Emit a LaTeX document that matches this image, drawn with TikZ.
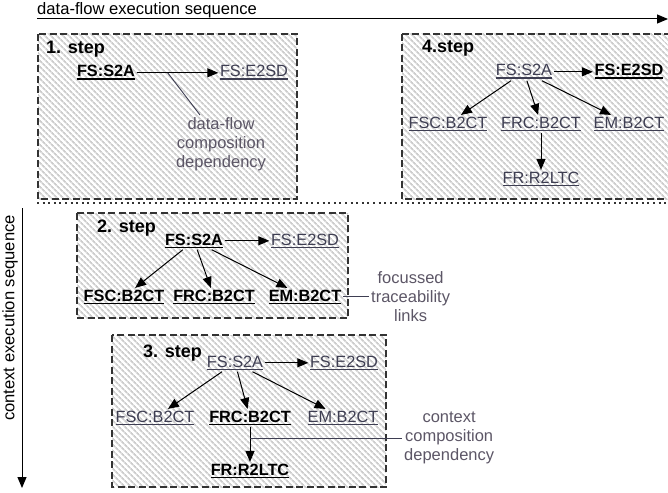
\documentclass[tikz,border=0pt]{standalone}
\usepackage{fontspec}
\setmainfont{Liberation Sans}
\usetikzlibrary{arrows.meta,patterns.meta}

\definecolor{namegray}{HTML}{3E3E52}
\definecolor{notegray}{HTML}{5C5666}
\definecolor{hatchgray}{HTML}{CDCDCD}
\definecolor{framegray}{HTML}{333333}

% underlined service name
\newcommand\svcname[1]{\setbox0\hbox{#1}\rlap{\rule[-3pt]{\wd0}{1.5pt}}\box0}

\tikzset{
  x=1pt, y=-1pt,
  stepframe/.style={draw=framegray, line width=1.1pt, dash pattern=on 7pt off 3.5pt,
    preaction={pattern={Lines[angle=-45,distance=4pt,line width=1.9pt]}, pattern color=hatchgray}},
  svc/.style={font=\fontsize{16.3}{19}\selectfont, text=namegray, inner sep=1.5pt, anchor=base},
  svcbold/.style={svc, text=black, font=\fontsize{16.3}{19}\selectfont\bfseries},
  steptitle/.style={font=\fontsize{18}{21}\selectfont\bfseries, inner sep=0pt, anchor=base west},
  note/.style={font=\fontsize{16.5}{19}\selectfont, text=notegray, align=center, inner sep=0pt},
  axislabel/.style={font=\fontsize{16.6}{19}\selectfont, inner sep=0pt},
  conn/.style={-{Triangle[length=11pt,width=9pt]}, line width=1pt},
  noteline/.style={draw=namegray, line width=0.9pt},
}

\begin{document}
\begin{tikzpicture}
\useasboundingbox (0,0) rectangle (668,492);

% execution axes
\coordinate (dfstart) at (37,19);
\coordinate (dfend) at (668,19);
\draw[conn] (dfstart) -- (dfend);
\node[axislabel, anchor=base west] (dflabel) at (37,14.5) {data-flow execution sequence};

\coordinate (cxstart) at (22,208);
\coordinate (cxend) at (22,488);
\draw[conn] (cxstart) -- (cxend);
\node[axislabel, rotate=90] (cxlabel) at (10,318) {context execution sequence};

\coordinate (sepstart) at (37,203);
\coordinate (sepend) at (668,203);
\draw[framegray, line width=1.6pt, dash pattern=on 2pt off 3.6pt] (sepstart) -- (sepend);

% step frames
\path[stepframe] (38,34) rectangle (297,199);
\path[stepframe] (402,34) rectangle (676,199);
\path[stepframe] (77,213) rectangle (348,318);
\path[stepframe] (112,335) rectangle (386,487);

% 1. step
\node[steptitle] (t1) at (46,54) {1. step};
\node[svcbold] (a1) at (106,77) {\svcname{FS:S2A}};
\node[svc] (b1) at (254,77) {\svcname{FS:E2SD}};
\draw[conn] (a1) -- coordinate[pos=0.38] (k1) (b1);
\node[note, anchor=north] (n1) at (221,117.5) {data-flow\\composition\\dependency};
\coordinate (n1end) at (200,115);
\draw[noteline] (k1) -- (n1end);

% 4.step
\node[steptitle] (t4) at (422,53) {4.step};
\node[svc] (a4) at (524,76) {\svcname{FS:S2A}};
\node[svcbold] (b4) at (629,76) {\svcname{FS:E2SD}};
\node[svc] (c4) at (448,128) {\svcname{FSC:B2CT}};
\node[svc] (d4) at (541,128) {\svcname{FRC:B2CT}};
\node[svc] (e4) at (629,128) {\svcname{EM:B2CT}};
\node[svc] (f4) at (541,183) {\svcname{FR:R2LTC}};
\draw[conn] (a4) -- (b4);
\draw[conn] (a4) -- (c4);
\draw[conn] (a4) -- (d4);
\draw[conn] (a4) -- (e4);
\draw[conn] (d4) -- (f4);

% 2. step
\node[steptitle] (t2) at (97,232) {2. step};
\node[svcbold] (a2) at (194,245) {\svcname{FS:S2A}};
\node[svc] (b2) at (305,245) {\svcname{FS:E2SD}};
\node[svcbold] (c2) at (124,301) {\svcname{FSC:B2CT}};
\node[svcbold] (d2) at (214,301) {\svcname{FRC:B2CT}};
\node[svcbold] (e2) at (305,301) {\svcname{EM:B2CT}};
\draw[conn] (a2) -- (b2);
\draw[conn] (a2) -- (c2);
\draw[conn] (a2) -- (d2);
\draw[conn] (a2) -- (e2);
\node[note, anchor=west] (n2) at (371,297) {focussed\\traceability\\links};
\draw[noteline, shorten >=2pt] (e2.east) -- (e2.east -| n2.west);

% 3. step
\node[steptitle] (t3) at (143,357) {3. step};
\node[svc] (a3) at (235,367) {\svcname{FS:S2A}};
\node[svc] (b3) at (344,367) {\svcname{FS:E2SD}};
\node[svc] (c3) at (155,422) {\svcname{FSC:B2CT}};
\node[svcbold] (d3) at (250,422) {\svcname{FRC:B2CT}};
\node[svc] (e3) at (343,422) {\svcname{EM:B2CT}};
\node[svcbold] (f3) at (250,475) {\svcname{FR:R2LTC}};
\draw[conn] (a3) -- (b3);
\draw[conn] (a3) -- (c3);
\draw[conn] (a3) -- (d3);
\draw[conn] (a3) -- (e3);
\draw[conn] (d3) -- coordinate[pos=0.33] (k3) (f3);
\node[note, anchor=west] (n3) at (404,438) {context\\composition\\dependency};
\draw[noteline, shorten >=2pt] (k3) -- (k3 -| n3.west);
\end{tikzpicture}
\end{document}
